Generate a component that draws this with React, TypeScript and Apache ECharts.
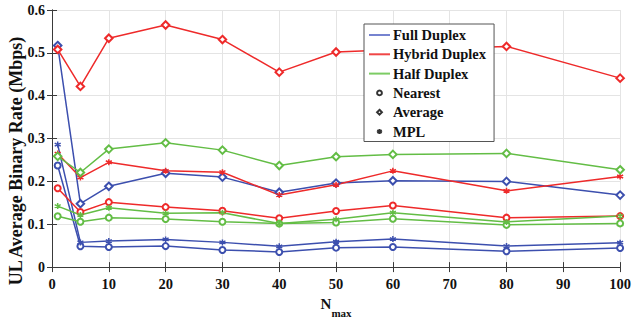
import React, { useEffect, useRef } from "react";
import * as echarts from "echarts";

const nMax = [1, 5, 10, 20, 30, 40, 50, 60, 80, 100];

const fullNearest = [0.237, 0.0485, 0.047, 0.049, 0.040, 0.0354, 0.0454, 0.047, 0.037, 0.0446];
const fullAverage = [0.517, 0.148, 0.1885, 0.219, 0.21, 0.1746, 0.196, 0.2015, 0.2, 0.168];
const fullMPL = [0.286, 0.0577, 0.0608, 0.0646, 0.0577, 0.0485, 0.0592, 0.0654, 0.049, 0.057];

const hybridNearest = [0.184, 0.1285, 0.1516, 0.14, 0.1315, 0.1138, 0.131, 0.1439, 0.1154, 0.119];
const hybridAverage = [0.508, 0.4216, 0.534, 0.565, 0.531, 0.455, 0.502, 0.507, 0.515, 0.441];
const hybridMPL = [0.265, 0.209, 0.2446, 0.2246, 0.2215, 0.168, 0.192, 0.2246, 0.178, 0.2115];

const halfNearest = [0.1185, 0.106, 0.1154, 0.1123, 0.106, 0.1015, 0.104, 0.113, 0.0985, 0.102];
const halfAverage = [0.2585, 0.2208, 0.2754, 0.29, 0.273, 0.237, 0.2577, 0.263, 0.2654, 0.227];
const halfMPL = [0.1423, 0.1216, 0.1385, 0.1254, 0.127, 0.1015, 0.1115, 0.127, 0.1054, 0.119];

const schemes = ["Full Duplex", "Hybrid Duplex", "Half Duplex"];
const strategies = ["Nearest", "Average", "MPL"];

const yTitle = "UL Average Binary Rate (Mbps)";

const BLUE = "#3c4fae";
const RED = "#ee2a2a";
const GREEN = "#63bd45";
const FONT = "'Liberation Serif', 'Times New Roman', serif";
const STAR = "path://M0,-5 L0,5 M-4.33,-2.5 L4.33,2.5 M-4.33,2.5 L4.33,-2.5";

const symbolFor: Record<string, string> = {
  Nearest: "emptyCircle",
  Average: "emptyDiamond",
  MPL: STAR,
};
const sizeFor: Record<string, number> = { Nearest: 6, Average: 7.5, MPL: 6 };

export default function App() {
  const ref = useRef<HTMLDivElement>(null);
  useEffect(() => {
    if (!ref.current) return;
    const chart = echarts.init(ref.current, undefined, { renderer: "svg" });

    const dataSets: [string, string, number[], string][] = [
      ["Full Duplex", "Nearest", fullNearest, BLUE],
      ["Full Duplex", "Average", fullAverage, BLUE],
      ["Full Duplex", "MPL", fullMPL, BLUE],
      ["Hybrid Duplex", "Nearest", hybridNearest, RED],
      ["Hybrid Duplex", "Average", hybridAverage, RED],
      ["Hybrid Duplex", "MPL", hybridMPL, RED],
      ["Half Duplex", "Nearest", halfNearest, GREEN],
      ["Half Duplex", "Average", halfAverage, GREEN],
      ["Half Duplex", "MPL", halfMPL, GREEN],
    ];

    const dataSeries = dataSets.map(([scheme, strat, vals, color]) => ({
      name: scheme + " / " + strat,
      type: "line",
      data: nMax.map((x, i) => [x, vals[i]]),
      symbol: symbolFor[strat],
      symbolSize: sizeFor[strat],
      showSymbol: true,
      lineStyle: { color, width: 1.5 },
      itemStyle: { color, borderColor: color, borderWidth: 1.5 },
      z: 3,
    }));

    const legendLineColors = ["#7683d0", "#f04646", "#7ccc64"];
    const legendLines = schemes.map((s, i) => ({
      name: s,
      type: "line",
      data: [],
      symbol: "none",
      lineStyle: { color: legendLineColors[i], width: 1.2 },
      itemStyle: { color: legendLineColors[i] },
    }));
    const legendMarkers = strategies.map((s) => ({
      name: s,
      type: "line",
      data: [],
      symbol: symbolFor[s],
      lineStyle: { width: 0, opacity: 0 },
      itemStyle: { color: "#333", borderColor: "#333", borderWidth: 1 },
    }));

    const axisLine = { show: true, lineStyle: { color: "#3a3a3a", width: 1 } };
    const axisTick = { show: true, inside: true, length: 5, lineStyle: { color: "#3a3a3a" } };
    const labelStyle = { fontFamily: FONT, fontWeight: "bold" as const, fontSize: 14, color: "#111" };

    chart.setOption({
      animation: false,
      backgroundColor: "#fff",
      grid: { left: 52, right: 8, top: 10, bottom: 53, containLabel: false },
      xAxis: [
        {
          type: "value",
          min: 0,
          max: 100,
          interval: 10,
          position: "bottom",
          axisLine,
          axisTick,
          splitLine: { show: true, lineStyle: { color: "#e4e4e4", width: 1 } },
          axisLabel: { ...labelStyle, fontSize: 14.5, margin: 9 },
          name: "{n|N}{s|max}",
          nameLocation: "middle",
          nameGap: 12,
          nameTextStyle: {
            rich: {
              n: { fontFamily: FONT, fontWeight: "bold", fontSize: 15, color: "#111" },
              s: { fontFamily: FONT, fontWeight: "bold", fontSize: 11, color: "#111", padding: [18, 0, 0, 0] },
            },
          },
        },
        {
          type: "value",
          min: 0,
          max: 100,
          interval: 10,
          position: "top",
          axisLine,
          axisTick,
          splitLine: { show: false },
          axisLabel: { show: false },
        },
      ],
      yAxis: [
        {
          type: "value",
          min: 0,
          max: 0.6,
          interval: 0.1,
          position: "left",
          axisLine,
          axisTick,
          splitLine: { show: true, lineStyle: { color: "#e4e4e4", width: 1 } },
          axisLabel: {
            ...labelStyle,
            margin: 7,
            formatter: (v: number) => (v === 0 ? "0" : v.toFixed(1)),
          },
        },
        {
          type: "value",
          min: 0,
          max: 0.6,
          interval: 0.1,
          position: "right",
          axisLine,
          axisTick,
          splitLine: { show: false },
          axisLabel: { show: false },
        },
      ],
      legend: {
        show: true,
        orient: "vertical",
        left: 364,
        top: 24,
        data: [
          ...schemes.map((s) => ({ name: s, itemStyle: { opacity: 0 } })),
          ...strategies.map((s) => ({ name: s })),
        ],
        itemWidth: 21,
        itemHeight: 6,
        itemGap: 3.3,
        padding: [3, 8, 2, 4],
        backgroundColor: "#fff",
        borderColor: "#555",
        borderWidth: 1,
        borderRadius: 0,
        selectedMode: false,
        textStyle: {
          fontFamily: FONT,
          fontWeight: "bold",
          fontSize: 14.5,
          color: "#111",
          lineHeight: 16,
          padding: [0, 0, 0, -2],
        },
      },
      graphic: [
        {
          type: "text",
          x: 16,
          y: 161,
          rotation: Math.PI / 2,
          style: {
            text: yTitle,
            fontFamily: FONT,
            fontWeight: "bold",
            fontSize: 18,
            fill: "#111",
            align: "center",
            verticalAlign: "middle",
          },
        },
      ],
      series: [...dataSeries, ...legendLines, ...legendMarkers],
    });
    return () => chart.dispose();
  }, []);
  return (
    <div
      ref={ref}
      style={{ position: "absolute", left: 0, top: 0, width: 634, height: 323 }}
    />
  );
}
